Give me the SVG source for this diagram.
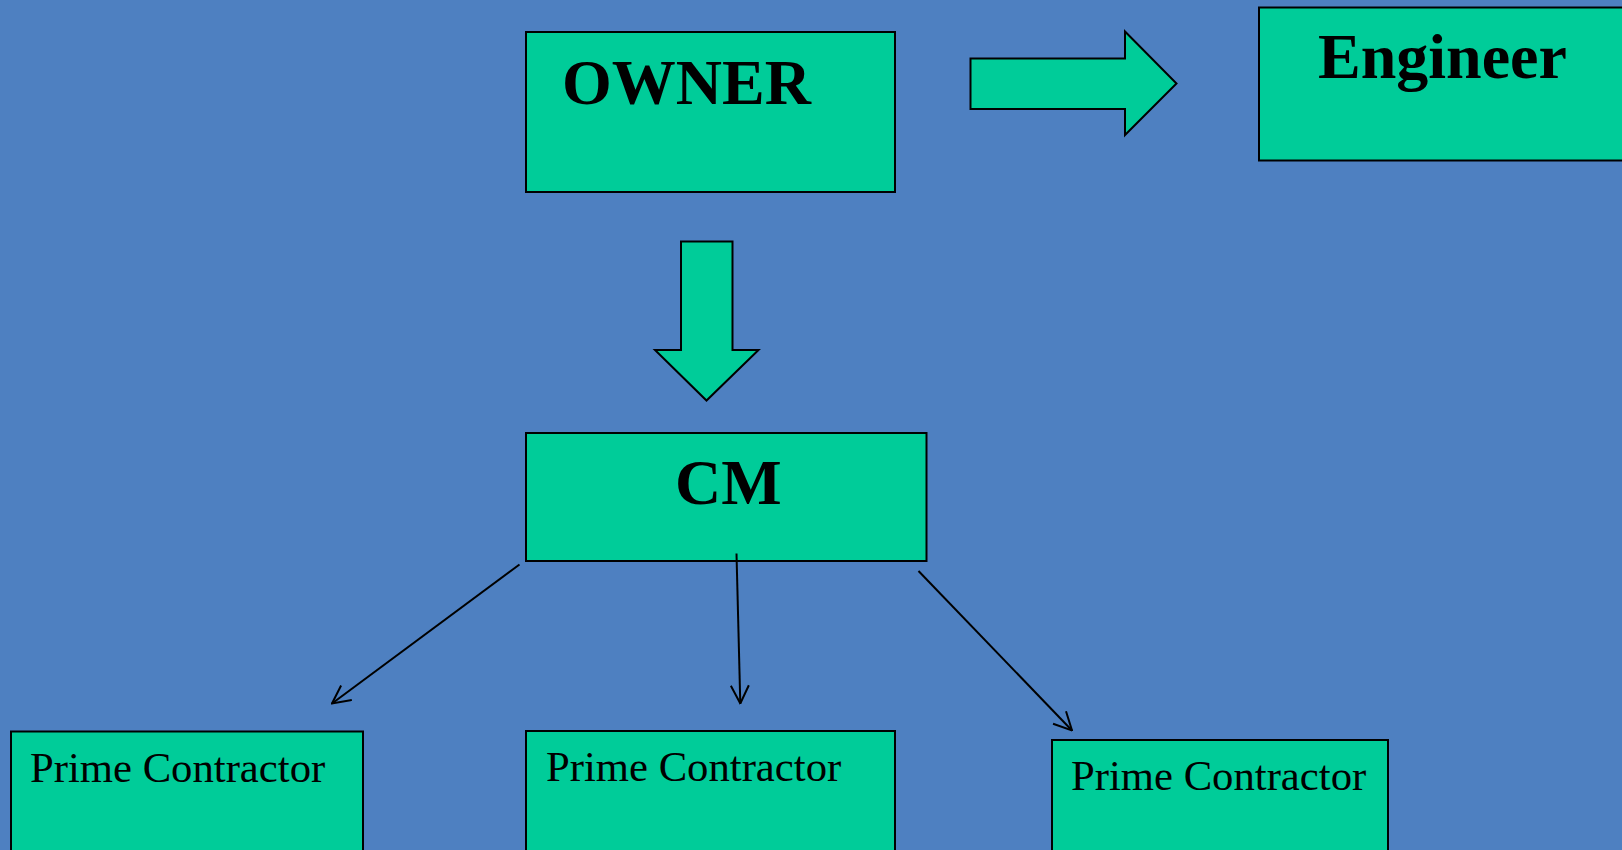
<svg xmlns="http://www.w3.org/2000/svg" width="1622" height="850" viewBox="0 0 1622 850">
<style>
.box{fill:#00CC99;stroke:#000;stroke-width:2}
.big{font-family:"Liberation Serif",serif;font-weight:bold;font-size:64px;fill:#000}
.pc{font-family:"Liberation Serif",serif;font-size:42.7px;fill:#000}
.con{fill:none;stroke:#000;stroke-width:2}
</style>
<defs>
<marker id="open" viewBox="0 0 20 20" markerWidth="20" markerHeight="20" markerUnits="userSpaceOnUse" refX="19" refY="10" orient="auto">
<path d="M1,1 L19,10 L1,19" fill="none" stroke="#000" stroke-width="2"/>
</marker>
</defs>
<rect width="1622" height="850" fill="#4E80C1"/>
<g id="owner">
<rect class="box" x="526" y="32" width="369" height="160"/>
<text class="big" x="562" y="104">OWNER</text>
</g>
<g id="engineer">
<rect class="box" x="1259" y="7.5" width="372" height="153"/>
<text class="big" x="1318" y="78">Engineer</text>
</g>
<g id="cm">
<rect class="box" x="526" y="433" width="400.5" height="128"/>
<text class="big" x="675" y="504">CM</text>
</g>
<g id="pc1">
<rect class="box" x="11" y="731.5" width="352" height="130"/>
<text class="pc" x="30" y="781.5">Prime Contractor</text>
</g>
<g id="pc2">
<rect class="box" x="526" y="731" width="369" height="130"/>
<text class="pc" x="546" y="780.5">Prime Contractor</text>
</g>
<g id="pc3">
<rect class="box" x="1052" y="740" width="336" height="130"/>
<text class="pc" x="1071" y="790">Prime Contractor</text>
</g>
<g id="connectors">
<polygon class="box" points="970.5,58.5 1125,58.5 1125,31.5 1176.5,83.5 1125,135 1125,109 970.5,109"/>
<polygon class="box" points="681,241.5 732.5,241.5 732.5,350 758.5,350 706.5,400.5 655,350 681,350"/>
<line class="con" x1="519.5" y1="564.5" x2="332" y2="703.5" marker-end="url(#open)"/>
<line class="con" x1="736.5" y1="553.5" x2="740.3" y2="703.5" marker-end="url(#open)"/>
<line class="con" x1="918.5" y1="571" x2="1072" y2="730.5" marker-end="url(#open)"/>
</g>
</svg>
